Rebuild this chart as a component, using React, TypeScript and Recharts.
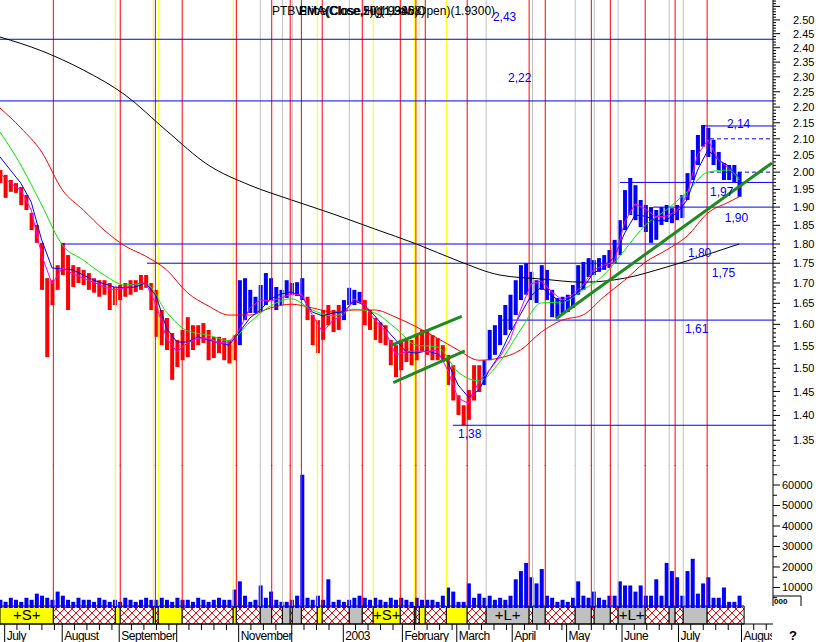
import {
  ComposedChart,
  Bar,
  Line,
  XAxis,
  YAxis,
  ReferenceLine,
  ReferenceArea,
  ReferenceDot,
} from "recharts";

const FONT = "'Liberation Sans', Arial, sans-serif";
const RED = "#ff0000";
const BLUE = "#0000ff";
const YELLOW = "#ffff00";
const GRAY = "#c0c0c0";
const TREND = "#1f8a1f";

const X_DOMAIN: [number, number] = [0, 297];
const LAST_DAY = 284;

// one bar per two trading days (day = index * 2)
const HIGH = [
  2.006, 1.992, 1.977, 1.968, 1.957, 1.934, 1.884, 1.851, 1.803, 1.712,
  1.707, 1.745, 1.803, 1.771, 1.745, 1.74, 1.733, 1.725, 1.712, 1.707,
  1.707, 1.7, 1.69, 1.695, 1.7, 1.707, 1.707, 1.72, 1.72, 1.7,
  1.683, 1.634, 1.615, 1.58, 1.564, 1.587, 1.617, 1.598, 1.598, 1.603,
  1.587, 1.571, 1.571, 1.568, 1.564, 1.575, 1.707, 1.712, 1.683, 1.666,
  1.695, 1.725, 1.712, 1.69, 1.683, 1.707, 1.7, 1.702, 1.712, 1.666,
  1.622, 1.61, 1.634, 1.646, 1.634, 1.646, 1.658, 1.688, 1.683, 1.678,
  1.658, 1.634, 1.615, 1.605, 1.598, 1.564, 1.552, 1.564, 1.564, 1.564,
  1.575, 1.587, 1.587, 1.575, 1.568, 1.552, 1.53, 1.507, 1.442, 1.421,
  1.453, 1.507, 1.507, 1.518, 1.587, 1.598, 1.622, 1.646, 1.671, 1.707,
  1.745, 1.75, 1.728, 1.707, 1.745, 1.733, 1.683, 1.663, 1.666, 1.671,
  1.695, 1.745, 1.753, 1.763, 1.758, 1.763, 1.771, 1.784, 1.811, 1.864,
  1.948, 1.983, 1.962, 1.92, 1.906, 1.9, 1.892, 1.9, 1.906, 1.897,
  1.906, 1.934, 1.997, 2.066, 2.112, 2.143, 2.134, 2.097, 2.06, 2.027,
  2.021, 2.021, 2.0,
];

const LOW = [
  1.968, 1.926, 1.943, 1.94, 1.906, 1.892, 1.837, 1.803, 1.683, 1.525,
  1.646, 1.683, 1.72, 1.634, 1.69, 1.7, 1.695, 1.683, 1.676, 1.666,
  1.671, 1.634, 1.646, 1.658, 1.666, 1.671, 1.678, 1.683, 1.688, 1.634,
  1.571, 1.552, 1.541, 1.475, 1.503, 1.518, 1.525, 1.541, 1.552, 1.557,
  1.518, 1.523, 1.534, 1.518, 1.511, 1.518, 1.552, 1.61, 1.627, 1.627,
  1.629, 1.646, 1.658, 1.634, 1.646, 1.663, 1.671, 1.668, 1.658, 1.61,
  1.552, 1.534, 1.564, 1.598, 1.582, 1.587, 1.61, 1.646, 1.646, 1.651,
  1.598, 1.587, 1.564, 1.557, 1.552, 1.507, 1.481, 1.496, 1.514, 1.507,
  1.518, 1.537, 1.53, 1.518, 1.518, 1.514, 1.464, 1.431, 1.401, 1.38,
  1.391, 1.431, 1.449, 1.464, 1.518, 1.53, 1.552, 1.575, 1.587, 1.622,
  1.658, 1.671, 1.658, 1.651, 1.683, 1.658, 1.617, 1.615, 1.627, 1.629,
  1.639, 1.671, 1.683, 1.715, 1.72, 1.728, 1.733, 1.738, 1.75, 1.771,
  1.837, 1.878, 1.864, 1.845, 1.832, 1.803, 1.811, 1.851, 1.859, 1.856,
  1.864, 1.87, 1.92, 1.977, 2.021, 2.076, 2.045, 2.021, 2.006, 1.977,
  1.977, 1.971, 1.929,
];

const VOLUME = [
  4000, 3000, 5000, 4000, 3000, 5000, 4000, 7000, 6000, 5000, 4000, 8000,
  6000, 4000, 3000, 5000, 4000, 4000, 3000, 5000, 4000, 3000, 4000, 3000,
  5000, 4000, 3000, 4000, 5000, 4000, 4000, 5000, 4000, 3000, 5000, 4000,
  4000, 3000, 5000, 4000, 3000, 4000, 5000, 4000, 4000, 9000, 13000, 6000,
  3000, 4000, 11000, 5000, 8000, 4000, 3000, 3000, 4000, 6000, 65000, 5000,
  4000, 6000, 4000, 14000, 3000, 4000, 3000, 4000, 5000, 6000, 5000, 4000,
  5000, 4000, 3000, 5000, 4000, 5000, 4000, 3000, 5000, 4000, 4000, 4000,
  3000, 6000, 10000, 8000, 3000, 3000, 12000, 5000, 7000, 5000, 6000, 4000,
  5000, 4000, 6000, 14000, 18000, 22000, 15000, 12000, 19000, 6000, 5000, 3000,
  4000, 3000, 5000, 13000, 6000, 5000, 8000, 5000, 4000, 6000, 6000, 13000,
  11000, 11000, 8000, 11000, 6000, 6000, 14000, 6000, 22000, 18000, 15000, 6000,
  18000, 24000, 7000, 12000, 15000, 5000, 5000, 10000, 3000, 3000, 6000,
];

// moving averages, sampled every 16 / 8 / 4 trading days
const MA200 = [
  2.438, 2.389, 2.323, 2.24, 2.125, 2.021, 1.962, 1.92, 1.881, 1.84,
  1.8, 1.756, 1.72, 1.71, 1.702, 1.712, 1.74, 1.773, 1.8,
];
const MA50 = [
  2.197, 2.134, 2.06, 1.948, 1.892, 1.837, 1.795, 1.768, 1.733, 1.676,
  1.644, 1.622, 1.622, 1.639, 1.648, 1.639, 1.629, 1.634, 1.634, 1.617,
  1.594, 1.568, 1.541, 1.518, 1.523, 1.541, 1.582, 1.61, 1.622, 1.666,
  1.707, 1.753, 1.784, 1.821, 1.884, 1.914, 1.929,
];
const MA20 = [
  2.121, 2.021, 1.906, 1.797, 1.758, 1.72, 1.695, 1.698, 1.629, 1.585,
  1.575, 1.562, 1.605, 1.644, 1.661, 1.634, 1.62, 1.636, 1.627, 1.591,
  1.552, 1.548, 1.492, 1.473, 1.514, 1.587, 1.651, 1.653, 1.683, 1.72,
  1.784, 1.851, 1.892, 1.943, 2.0, 2.006, 1.977,
];
const MA10 = [
  2.045, 2.006, 1.968, 1.914, 1.811, 1.738, 1.735, 1.733, 1.72, 1.707,
  1.698, 1.69, 1.688, 1.69, 1.7, 1.668, 1.591, 1.559, 1.559, 1.571,
  1.564, 1.557, 1.552, 1.582, 1.615, 1.634, 1.661, 1.673, 1.678, 1.666,
  1.629, 1.62, 1.627, 1.629, 1.656, 1.646, 1.62, 1.591, 1.564, 1.537,
  1.534, 1.539, 1.532, 1.514, 1.464, 1.438, 1.453, 1.496, 1.53, 1.58,
  1.624, 1.668, 1.69, 1.668, 1.653, 1.666, 1.688, 1.725, 1.738, 1.766,
  1.829, 1.878, 1.875, 1.862, 1.864, 1.884, 1.92, 2.006, 2.066, 2.036,
  2.018, 1.983,
];
const MA5 = [
  1.997, 1.968, 1.948, 1.892, 1.771, 1.698, 1.738, 1.723, 1.712, 1.702,
  1.69, 1.683, 1.688, 1.698, 1.7, 1.646, 1.568, 1.537, 1.557, 1.568,
  1.568, 1.557, 1.559, 1.587, 1.639, 1.658, 1.656, 1.663, 1.673, 1.671,
  1.622, 1.582, 1.61, 1.622, 1.661, 1.646, 1.61, 1.585, 1.53, 1.537,
  1.539, 1.537, 1.541, 1.496, 1.436, 1.425, 1.471, 1.496, 1.525, 1.564,
  1.634, 1.698, 1.705, 1.678, 1.658, 1.671, 1.695, 1.733, 1.745, 1.753,
  1.859, 1.909, 1.895, 1.873, 1.875, 1.889, 1.934, 2.051, 2.097, 2.036,
  2.012, 1.983,
];

// bar indexes drawn in blue (up regime)
const BLUE_SPANS = [
  [46, 58],
  [66, 69],
  [93, 142],
];

// signal strip: start day of each block and its kind
const BAND_STARTS = [
  0, 20.5, 44.3, 46.2, 58.9, 59.7, 60.8, 70.0, 89.6, 90.8, 100.0, 104.4,
  108.5, 111.5, 112.3, 115.8, 121.9, 123.8, 134.2, 139.2, 143.4, 153.8,
  159.2, 159.8, 161.1, 163.4, 171.5, 179.5, 186.8, 203.3, 204.6, 209.5,
  221.0, 227.2, 228.3, 234.5, 237.5, 247.9, 257.1, 259.4, 262.5, 271.7,
];
const BAND_KINDS = "SHYHYHYHYHGHGHGHYHGHSHYHYHYHLHGHGHGHLHGHGH".split("");
const BAND_END = 285.9;

// support / resistance levels: [price, fromDay, dashed]
const LEVELS: [number, number, boolean][] = [
  [2.43, 0, false],
  [2.22, 0, false],
  [2.14, 270, false],
  [2.1, 272.8, true],
  [2.0, 272.8, true],
  [1.97, 238.2, false],
  [1.9, 250.9, false],
  [1.8, 23.4, false],
  [1.75, 56.5, false],
  [1.61, 192.9, false],
  [1.38, 174, false],
];
const LEVEL_LABELS: [string, number, number][] = [
  ["2,43", 189.4, 2.496],
  ["2,22", 195.2, 2.283],
  ["2,14", 279.3, 2.134],
  ["1,97", 272.8, 1.931],
  ["1,90", 278.5, 1.859],
  ["1,80", 264.3, 1.766],
  ["1,75", 273.5, 1.715],
  ["1,61", 263.2, 1.58],
  ["1,38", 176, 1.354],
];
const TRENDS: [number, number, number, number][] = [
  [150.5, 1.552, 177.4, 1.619],
  [151.1, 1.469, 178.6, 1.539],
  [213.6, 1.613, 296.6, 2.027],
];

const MONTH_DAYS = [
  1.8, 23.9, 45.8, 67.9, 91.7, 112.1, 131.9, 154.6, 175.5, 196.8, 217.7,
  239.0, 260.7, 284.9,
];
const MONTH_LABELS = [
  "July", "August", "September", "", "November", "", "2003", "February",
  "March", "April", "May", "June", "July", "August",
];

const HEADER = [
  "EMA(Close,5)(1.9346)",
  "SMA(Close,20)(1.9858)",
  "Price(Close,High,Low,Open)(1.9300)",
];

// volume axis: zero sits 2px under the strip top, strip fills the band below
const VOL_TOP = 69756;
const VOL_BOTTOM = -7805;
const STRIP_TOP = 976;

const rows = HIGH.map((h, i) => ({
  d: i * 2,
  range: [LOW[i], h],
  vol: VOLUME[i],
}));

const toSeries = (values: number[], step: number) =>
  values.map((v, i) => ({ d: Math.min(i * step, LAST_DAY), v }));

const MA_LINES = [
  { data: toSeries(MA200, 16), color: "#000000", type: "monotone" },
  { data: toSeries(MA50, 8), color: RED, type: "monotone" },
  { data: toSeries(MA20, 8), color: "#00ee00", type: "monotone" },
  { data: toSeries(MA10, 4), color: BLUE, type: "linear" },
  { data: toSeries(MA5, 4), color: "#ff00ff", type: "linear" },
];

const bands = BAND_STARTS.map((s, i) => ({
  x1: s,
  x2: i + 1 < BAND_STARTS.length ? BAND_STARTS[i + 1] : BAND_END,
  kind: BAND_KINDS[i],
}));

const lineColor = (kind: string) =>
  kind === "H" ? RED : kind === "G" || kind === "L" ? GRAY : YELLOW;

const bandFill = (kind: string) =>
  kind === "H" ? "url(#hatch)" : kind === "G" || kind === "L" ? GRAY : YELLOW;

const PRICE_TICKS = Array.from({ length: 128 }, (_, i) => (130 + i) / 100);
const VOL_TICKS = Array.from({ length: 13 }, (_, i) => (i + 1) * 5000);

const weekTicks: number[] = [];
MONTH_DAYS.forEach((m, i) => {
  const next = i + 1 < MONTH_DAYS.length ? MONTH_DAYS[i + 1] : X_DOMAIN[1];
  for (let t = m + 4.7; t < next - 1.5; t += 4.8) weekTicks.push(t);
});
const X_TICKS = [...MONTH_DAYS, ...weekTicks].sort((a, b) => a - b);

const barColor = (i: number) =>
  BLUE_SPANS.some(([a, b]) => i >= a && i <= b) ? BLUE : RED;

function PriceTick(props: any) {
  const { x, y, payload } = props;
  const c = Math.round(payload.value * 100);
  const major = c % 5 === 0;
  return (
    <g>
      <line x1={x} x2={x + (major ? 7 : 3)} y1={y} y2={y} stroke="#000" />
      {major && c >= 135 && c <= 250 && (
        <text x={x + 20} y={y + 4} fontSize={11} fontFamily={FONT} fill="#000">
          {(c / 100).toFixed(2)}
        </text>
      )}
    </g>
  );
}

function VolTick(props: any) {
  const { x, y, payload } = props;
  const v = payload.value;
  const major = v % 10000 === 0;
  return (
    <g>
      <line x1={x} x2={x + (major ? 7 : 4)} y1={y} y2={y} stroke="#000" />
      {major && v <= 60000 && (
        <text x={x + 9} y={y + 4} fontSize={11} fontFamily={FONT} fill="#000">
          {v}
        </text>
      )}
    </g>
  );
}

function MonthTick(props: any) {
  const { x, y, payload } = props;
  const idx = MONTH_DAYS.indexOf(payload.value);
  if (idx < 0) {
    return <line x1={x} x2={x} y1={y} y2={y + 6} stroke="#000" />;
  }
  return (
    <g>
      <line x1={x} x2={x} y1={y} y2={y + 18} stroke="#000" />
      {MONTH_LABELS[idx] && (
        <text
          x={x + 2}
          y={y + 16}
          fontSize={12}
          letterSpacing={-0.5}
          fontFamily={FONT}
          fill="#000"
          clipPath="url(#xclip)"
        >
          {MONTH_LABELS[idx]}
        </text>
      )}
    </g>
  );
}

export default function App() {
  return (
    <div
      style={{
        position: "absolute",
        left: 0,
        top: 0,
        width: 819,
        height: 642,
        background: "#fff",
        overflow: "hidden",
      }}
    >
      <div style={{ position: "absolute", left: 0, top: 0 }}>
        <ComposedChart
          width={819}
          height={466}
          data={rows}
          margin={{ top: 0, right: 0, bottom: 0, left: 0 }}
        >
          <XAxis type="number" dataKey="d" domain={X_DOMAIN} hide />
          <YAxis
            orientation="right"
            width={46}
            scale="log"
            domain={[1.3, 2.574]}
            allowDataOverflow
            ticks={PRICE_TICKS}
            interval={0}
            tickLine={false}
            tickSize={0}
            tickMargin={0}
            tick={(p: any) => <PriceTick {...p} />}
            axisLine={{ stroke: "#000" }}
          />
          {bands
            .filter((b) => b.x1 > 0)
            .map((b, i) => (
              <ReferenceLine key={"pv" + i} x={b.x1} stroke={lineColor(b.kind)} />
            ))}
          {LEVELS.map(([p, from, dashed], i) => (
            <ReferenceLine
              key={"lv" + i}
              segment={[
                { x: from, y: p },
                { x: X_DOMAIN[1], y: p },
              ]}
              stroke={BLUE}
              strokeWidth={1}
              strokeDasharray={dashed ? "4 3" : undefined}
            />
          ))}
          <Bar
            dataKey="range"
            barSize={4}
            isAnimationActive={false}
            shape={(p: any) => (
              <rect
                x={p.x}
                y={p.y}
                width={p.width}
                height={Math.max(p.height, 1)}
                fill={barColor(p.index)}
              />
            )}
          />
          {MA_LINES.map((m, i) => (
            <Line
              key={"ma" + i}
              data={m.data}
              dataKey="v"
              type={m.type as any}
              stroke={m.color}
              strokeWidth={1}
              dot={false}
              activeDot={false}
              legendType="none"
              isAnimationActive={false}
            />
          ))}
          {TRENDS.map(([x1, y1, x2, y2], i) => (
            <ReferenceLine
              key={"tr" + i}
              segment={[
                { x: x1, y: y1 },
                { x: x2, y: y2 },
              ]}
              stroke={TREND}
              strokeWidth={3}
            />
          ))}
          {LEVEL_LABELS.map(([t, d, p]) => (
            <ReferenceDot
              key={"lb" + t}
              x={d}
              y={p}
              r={0}
              shape={(s: any) => (
                <text x={s.cx} y={s.cy} fontSize={12} fontFamily={FONT} fill={BLUE}>
                  {t}
                </text>
              )}
            />
          ))}
        </ComposedChart>
      </div>

      <div style={{ position: "absolute", left: 0, top: 465 }}>
        <ComposedChart
          width={819}
          height={177}
          data={rows}
          margin={{ top: 0, right: 0, bottom: 0, left: 0 }}
        >
          <defs>
            <pattern id="hatch" width="8" height="8" patternUnits="userSpaceOnUse">
              <rect width="8" height="8" fill="#fff" />
              <path d="M0,0L8,8M8,0L0,8" stroke={RED} strokeWidth="1" />
            </pattern>
            <clipPath id="xclip">
              <rect x="0" y="0" width="772" height="177" />
            </clipPath>
          </defs>
          <XAxis
            type="number"
            dataKey="d"
            domain={X_DOMAIN}
            ticks={X_TICKS}
            interval={0}
            height={18}
            tickLine={false}
            tickSize={0}
            tickMargin={0}
            tick={(p: any) => <MonthTick {...p} />}
            axisLine={{ stroke: "#000" }}
          />
          <YAxis
            orientation="right"
            width={46}
            domain={[VOL_BOTTOM, VOL_TOP]}
            allowDataOverflow
            ticks={VOL_TICKS}
            interval={0}
            tickLine={false}
            tickSize={0}
            tickMargin={0}
            tick={(p: any) => <VolTick {...p} />}
            axisLine={false}
          />
          <ReferenceLine
            segment={[
              { x: X_DOMAIN[1], y: STRIP_TOP },
              { x: X_DOMAIN[1], y: VOL_TOP },
            ]}
            stroke="#000"
          />
          {bands
            .filter((b) => b.x1 > 0)
            .map((b, i) => (
              <ReferenceLine
                key={"vv" + i}
                segment={[
                  { x: b.x1, y: STRIP_TOP },
                  { x: b.x1, y: VOL_TOP },
                ]}
                stroke={lineColor(b.kind)}
              />
            ))}
          <Bar dataKey="vol" barSize={4} fill={BLUE} isAnimationActive={false} />
          {bands.map((b, i) => (
            <ReferenceArea
              key={"bd" + i}
              x1={b.x1}
              x2={b.x2}
              y1={STRIP_TOP}
              y2={VOL_BOTTOM}
              fill={bandFill(b.kind)}
              fillOpacity={1}
              stroke="#000"
              strokeWidth={1}
              label={
                b.kind === "S" || b.kind === "L"
                  ? {
                      value: "+" + b.kind + "+",
                      position: "center",
                      fontSize: 15,
                      fontFamily: FONT,
                      fill: "#000",
                    }
                  : undefined
              }
            />
          ))}
        </ComposedChart>
      </div>

      <svg
        width={819}
        height={642}
        style={{ position: "absolute", left: 0, top: 0, pointerEvents: "none" }}
      >
        <text x={272} y={15} fontSize={12} fontFamily={FONT} fill="#000">
          PTBV
        </text>
        {HEADER.map((h) => (
          <text key={h} x={299} y={15} fontSize={12} fontFamily={FONT} fill="#000">
            {h}
          </text>
        ))}
        <path d="M773,596H801V606" fill="none" stroke="#000" />
        <text x={774} y={604} fontSize={8} fontWeight="bold" fontFamily={FONT} fill="#000">
          000
        </text>
        <text x={789} y={640} fontSize={13} fontWeight="bold" fontFamily={FONT} fill="#000">
          ?
        </text>
      </svg>
    </div>
  );
}
